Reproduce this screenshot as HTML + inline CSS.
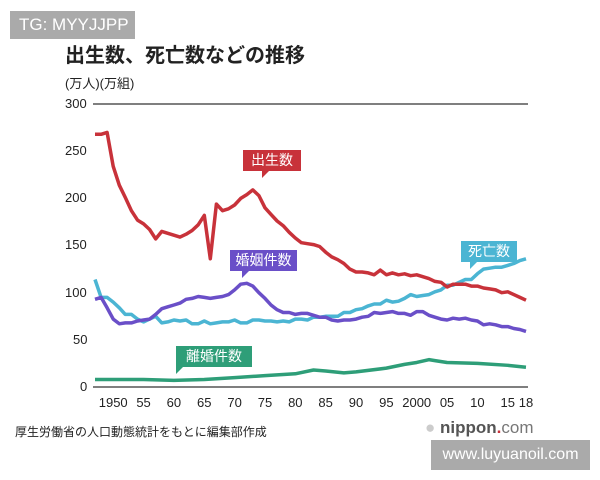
<!DOCTYPE html>
<html><head><meta charset="utf-8"><style>
body{margin:0;width:600px;height:480px;background:#fff;overflow:hidden;position:relative;font-family:"Liberation Sans","Noto Sans CJK JP",sans-serif}
.t{position:absolute;white-space:nowrap}
</style></head><body>
<svg width="600" height="480" style="position:absolute;left:0;top:0" id="s">
<line x1="93" y1="104" x2="528" y2="104" stroke="#555" stroke-width="1.5"/>
<line x1="93" y1="387" x2="528" y2="387" stroke="#555" stroke-width="1.5"/>
<g id="g" fill="none" stroke-width="3.5" stroke-linejoin="round"></g>
<polygon points="262,170 270,170 262,178" fill="#c8323a"/>
<polygon points="470,261 478,261 470,269" fill="#4bb5d3"/>
<polygon points="242,270 250,270 242,278" fill="#6a4fc8"/>
<polygon points="176,366 184,366 176,374" fill="#2e9e78"/>
</svg>
<div class="t" style="left:10px;top:11px;width:125px;height:28px;background:#aaa;color:#fff;font-size:17px;line-height:28px;padding-left:9px;box-sizing:border-box">TG: MYYJJPP</div>
<div class="t" style="left:65px;top:39px;font-size:20px;font-weight:bold;color:#222">出生数、死亡数などの推移</div>
<div class="t" style="left:65px;top:73px;font-size:13px;color:#222">(万人)(万組)</div>
<div class="t" style="left:65px;top:96px;font-size:13px;color:#222">300</div>
<div class="t" style="left:65px;top:143px;font-size:13px;color:#222">250</div>
<div class="t" style="left:65px;top:190px;font-size:13px;color:#222">200</div>
<div class="t" style="left:65px;top:237px;font-size:13px;color:#222">150</div>
<div class="t" style="left:65px;top:285px;font-size:13px;color:#222">100</div>
<div class="t" style="left:73px;top:332px;font-size:13px;color:#222">50</div>
<div class="t" style="left:80px;top:379px;font-size:13px;color:#222">0</div>
<div id="xl"></div>
<div class="t" style="left:243px;top:150px;width:58px;height:21px;background:#c8323a;color:#fff;font-size:14px;line-height:21px;text-align:center">出生数</div>
<div class="t" style="left:461px;top:241px;width:56px;height:21px;background:#4bb5d3;color:#fff;font-size:14px;line-height:21px;text-align:center">死亡数</div>
<div class="t" style="left:230px;top:250px;width:67px;height:21px;background:#6a4fc8;color:#fff;font-size:14px;line-height:21px;text-align:center">婚姻件数</div>
<div class="t" style="left:176px;top:346px;width:76px;height:21px;background:#2e9e78;color:#fff;font-size:14px;line-height:21px;text-align:center">離婚件数</div>
<div class="t" style="left:15px;top:423px;font-size:12px;color:#222">厚生労働省の人口動態統計をもとに編集部作成</div>
<div class="t" style="left:425px;top:418px;font-size:17px;color:#555;font-weight:bold"><span style="color:#ccc">●</span> nippon<span style="color:#c8323a">.</span><span style="font-weight:normal;color:#777">com</span></div>
<div class="t" style="left:431px;top:440px;width:159px;height:30px;background:#aaa;color:#fff;font-size:16px;line-height:30px;text-align:center">www.luyuanoil.com</div>
<script>
var X=y=>95+(y-1947)*6.07, Y=v=>387-v*0.943;
var B=[268,268,270,234,214,201,187,177,173,167,157,165,163,161,159,162,166,172,182,136,194,187,189,193,200,204,209,203,190,183,176,171,164,158,153,152,151,149,143,138,135,131,125,122,122,121,119,124,119,121,119,120,118,119,117,115,112,111,106,109,109,109,107,107,105,104,103,100,101,98,95,92];
var D=[114,95,95,90,84,77,77,72,69,72,75,68,69,71,70,71,67,67,70,67,68,69,69,71,68,68,71,71,70,70,69,70,69,72,72,71,74,74,75,75,75,79,79,82,83,86,88,88,92,90,91,94,98,96,97,98,101,103,108,108,111,114,114,120,125,126,127,127,129,131,134,136];
var M=[93,95,84,72,67,68,68,70,71,72,77,83,85,87,89,93,94,96,95,94,95,96,98,103,109,110,107,100,94,87,82,79,79,77,78,78,76,74,74,71,70,71,71,72,74,75,79,78,79,80,78,78,76,80,80,76,74,72,71,73,72,73,71,70,66,67,66,64,64,62,61,59];
var V=[[1947,8],[1950,8],[1955,8],[1960,7],[1965,8],[1970,10],[1975,12],[1980,14],[1983,18],[1985,17],[1988,15],[1990,16],[1995,20],[1998,24],[2000,26],[2002,29],[2003,28],[2005,26],[2010,25],[2015,23],[2018,21]];
function P(a){return a.map((v,i)=>(i?'L':'M')+X(1947+i).toFixed(1)+','+Y(v).toFixed(1)).join('')}
var g=document.getElementById('g');
function add(d,c){var p=document.createElementNS('http://www.w3.org/2000/svg','path');p.setAttribute('d',d);p.setAttribute('stroke',c);g.appendChild(p)}
add(P(D),'#4bb5d3');add(P(M),'#6a4fc8');
add(V.map((p,i)=>(i?'L':'M')+X(p[0])+','+Y(p[1])).join(''),'#2e9e78');
add(P(B),'#c8323a');
var L=[[1950,'1950'],[1955,'55'],[1960,'60'],[1965,'65'],[1970,'70'],[1975,'75'],[1980,'80'],[1985,'85'],[1990,'90'],[1995,'95'],[2000,'2000'],[2005,'05'],[2010,'10'],[2015,'15'],[2018,'18']];
var h='';L.forEach(l=>{h+='<div class="t" style="left:'+(X(l[0])-20)+'px;width:40px;text-align:center;top:395px;font-size:13px;color:#222">'+l[1]+'</div>'});
document.getElementById('xl').innerHTML=h;
</script>
</body></html>
